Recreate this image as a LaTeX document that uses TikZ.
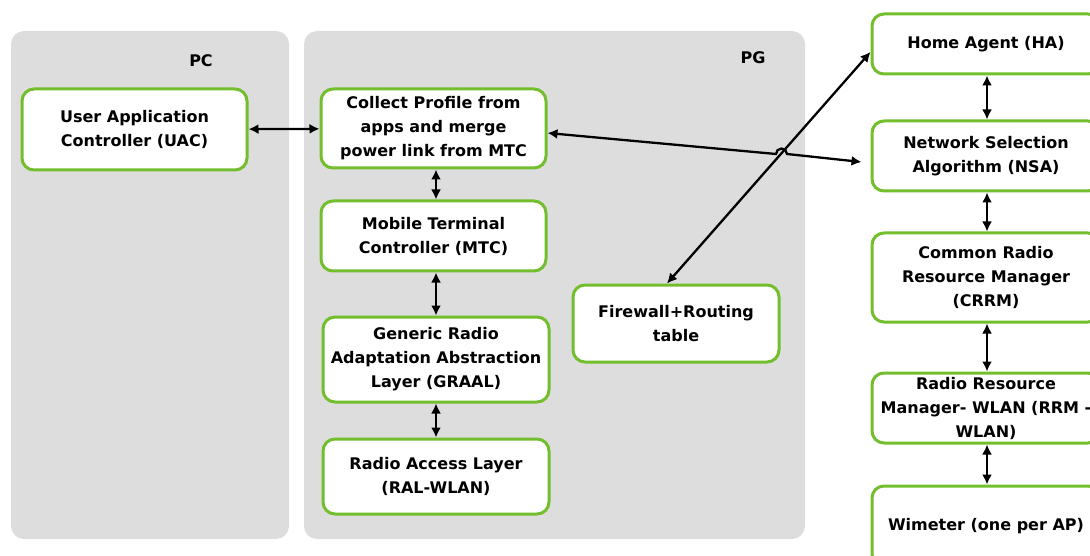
\documentclass[tikz,border=0pt]{standalone}
\usepackage{fontspec}
\setmainfont{DejaVu Sans}
\usetikzlibrary{arrows.meta}
\definecolor{boxgreen}{RGB}{114,190,44}
\definecolor{panelgray}{RGB}{221,221,221}
\tikzset{
  blk/.style={draw=boxgreen, line width=3pt, rounded corners=12pt, fill=white,
    align=center, inner sep=2pt, font=\bfseries\fontsize{16}{24}\selectfont},
  panel/.style={fill=panelgray, rounded corners=13pt},
  lnk/.style={{Latex[length=10pt,width=10pt]}-{Latex[length=10pt,width=10pt]}, line width=2.3pt},
  ttl/.style={font=\bfseries\fontsize{16}{20}\selectfont}
}
\begin{document}
\begin{tikzpicture}[x=1pt,y=-1pt]
    \useasboundingbox (0,0) rectangle (1090,556);
    % the two grey areas
    \fill[panel] (11,31) rectangle (289,539);
    \fill[panel] (304,31) rectangle (805,539);
    \node[ttl] (pc) at (201,61) {PC};
    \node[ttl] (pg) at (753,58) {PG};

    % PC side
    \node[blk, minimum width=225, minimum height=81] (uac) at (134.5,129.5) {User Application\\Controller (UAC)};

    % PG side
    \node[blk, minimum width=225, minimum height=79] (collect) at (433.5,128.5) {Collect Profile from\\apps and merge\\power link from MTC};
    \node[blk, minimum width=225, minimum height=70] (mtc) at (433.5,236) {Mobile Terminal\\Controller (MTC)};
    \node[blk, minimum width=226, minimum height=85] (graal) at (436,359.5) {Generic Radio\\Adaptation Abstraction\\Layer (GRAAL)};
    \node[blk, minimum width=226, minimum height=75] (ral) at (436,476.5) {Radio Access Layer\\(RAL-WLAN)};
    \node[blk, minimum width=206, minimum height=77] (fw) at (676,323.5) {Firewall+Routing\\table};

    % network side
    \node[blk, minimum width=228, minimum height=60] (ha) at (986,44) {Home Agent (HA)};
    \node[blk, minimum width=228, minimum height=70] (nsa) at (986,156) {Network Selection\\Algorithm (NSA)};
    \node[blk, minimum width=228, minimum height=89] (crrm) at (986,277.5) {Common Radio\\Resource Manager\\(CRRM)};
    \node[blk, minimum width=228, minimum height=70] (rrm) at (986,408) {Radio Resource\\Manager- WLAN (RRM -\\WLAN)};
    \node[blk, minimum width=228, minimum height=80] (wim) at (986,526) {Wimeter (one per AP)};

    % links
    \draw[lnk] (uac) -- (collect);
    \draw[lnk] ([xshift=2.5pt]collect.south) -- ([xshift=2.5pt]mtc.north);
    \draw[lnk] ([xshift=2.5pt]mtc.south) -- (graal.north);
    \draw[lnk] (graal) -- (ral);
    \draw[lnk] ([shift={(-9,0)}]fw.north) -- ([shift={(0,8)}]ha.west);
    \coordinate (hop) at (776,154);
    \draw[lnk] ([shift={(0,4.5)}]collect.east) -- (hop) arc[start angle=180, end angle=360, radius=5.5] -- ([shift={(-9,6)}]nsa.west);
    \draw[lnk] ([xshift=1pt]ha.south) -- ([xshift=1pt]nsa.north);
    \draw[lnk] ([xshift=1pt]nsa.south) -- ([xshift=1pt]crrm.north);
    \draw[lnk] ([xshift=1pt]crrm.south) -- ([xshift=1pt]rrm.north);
    \draw[lnk] ([xshift=1pt]rrm.south) -- ([xshift=1pt]wim.north);
\end{tikzpicture}
\end{document}
